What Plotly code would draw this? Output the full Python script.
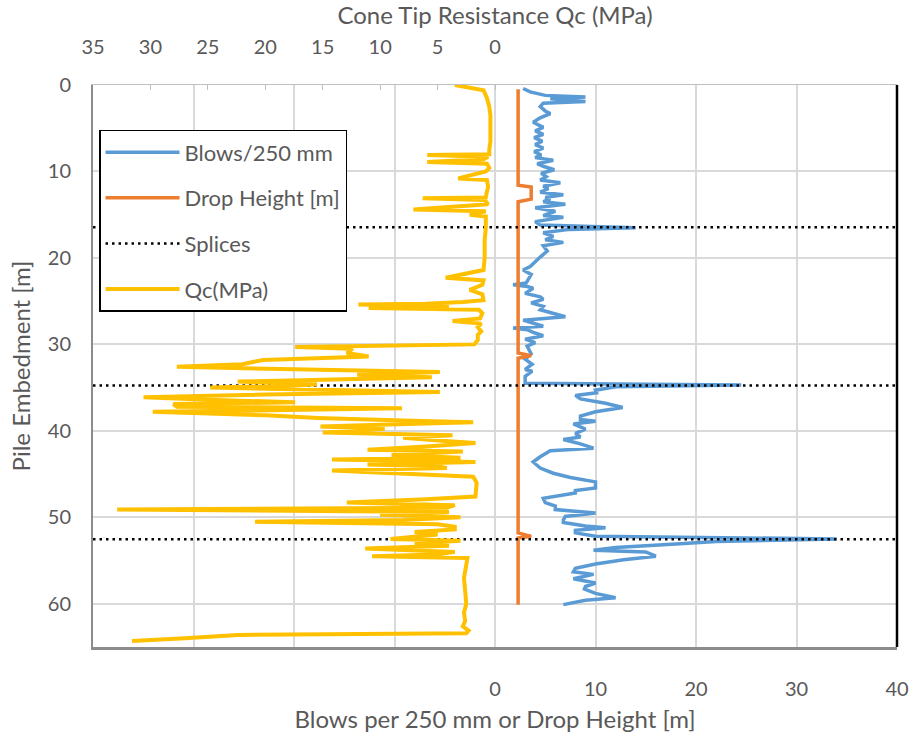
import plotly.graph_objects as go

# ---------------- data ----------------
blows_depth = [0.4, 0.8, 1.2, 1.4, 1.6, 1.9, 2.1, 2.5, 3.0, 3.3, 3.8, 4.3, 4.9, 5.3, 5.7, 6.1, 6.5, 6.9,
               7.3, 7.7, 8.1, 8.4, 8.7, 9.1, 9.4, 9.8, 10.2, 10.6, 11.0, 11.3, 11.7, 12.0, 12.4, 12.7,
               13.0, 13.2, 13.5, 13.8, 14.2, 14.6, 15.1, 15.3, 15.8, 16.2, 16.5, 16.7, 17.1, 17.5, 17.9,
               18.2, 18.6, 19.2, 19.9, 20.4, 21.0, 21.4, 21.9, 22.5, 22.9, 23.1, 23.3, 23.5, 24.1, 24.5,
               24.8, 25.2, 25.6, 26.0, 26.8, 27.2, 27.6, 27.9, 28.1, 28.3, 28.6, 29.0, 29.4, 29.8, 30.2,
               30.6, 31.1, 31.7, 32.3, 32.9, 33.1, 33.7, 34.5, 34.7, 34.9, 35.3, 35.6, 35.9, 36.3, 36.8,
               37.3, 37.8, 38.3, 38.7, 38.9, 39.2, 39.8, 40.3, 40.7, 41.0, 41.5, 42.0, 42.3, 43.0, 43.6,
               44.3, 44.9, 45.4, 45.9, 46.6, 46.9, 47.2, 47.8, 48.3, 48.7, 49.1, 49.5, 49.9, 50.3, 50.6,
               51.0, 51.2, 51.5, 51.8, 52.2, 52.5, 52.8, 53.1, 53.5, 53.8, 54.0, 54.5, 54.9, 55.4, 55.9,
               56.3, 56.6, 57.1, 57.6, 58.0, 58.3, 58.8, 59.3, 59.6, 60.1]
blows_value = [2.8, 3.5, 5.0, 9.0, 5.5, 9.0, 4.8, 4.5, 5.0, 5.5, 4.5, 3.8, 4.8, 4.0, 4.8, 3.9, 4.7, 4.0,
               4.8, 3.9, 4.6, 4.0, 5.8, 4.2, 4.8, 5.9, 4.6, 5.1, 4.5, 6.5, 4.8, 5.3, 4.5, 6.8,
               5.0, 5.5, 4.8, 7.0, 4.0, 6.0, 4.8, 6.8, 4.0, 4.5, 14.0, 7.4, 4.8, 5.8, 5.0,
               6.8, 4.8, 5.2, 4.5, 4.0, 3.5, 2.8, 3.6, 3.3, 3.1, 1.8, 3.2, 3.8, 3.0, 4.5,
               4.8, 3.6, 4.8, 4.5, 7.0, 2.8, 4.0, 4.8, 1.8, 3.2, 3.8, 4.8, 3.0, 4.0, 3.2,
               3.4, 3.6, 3.0, 3.7, 3.0, 3.7, 3.0, 3.0, 24.5, 12.0, 10.0, 10.1, 8.0, 8.5, 11.0,
               12.7, 10.0, 8.5, 8.5, 10.0, 7.8, 9.0, 8.0, 8.5, 6.8, 8.5, 9.8, 5.5, 4.5, 3.8,
               4.5, 5.8, 7.5, 10.0, 10.0, 8.0, 8.0, 4.8, 5.0, 6.0, 6.0, 10.0, 7.0, 6.8, 6.8,
               9.0, 11.0, 8.0, 8.0, 10.0, 34.0, 22.0, 18.0, 12.0, 9.8, 15.0, 16.0, 12.8, 10.0, 8.0,
               7.8, 9.8, 7.8, 10.0, 9.0, 8.9, 10.0, 12.0, 9.0, 6.8]

drop_depth = [0.5, 11.6, 11.8, 13.2, 13.5, 31.0, 31.3, 31.6, 51.8, 52.2, 52.4, 60.1]
drop_value = [2.3, 2.3, 3.6, 3.6, 2.3, 2.3, 3.6, 2.3, 2.3, 3.6, 2.3, 2.3]

splice_depths = [16.45, 34.75, 52.55]
splice_span = [-40, 40]

qc_depth = [0.0, 0.3, 0.6, 1.5, 2.5, 3.5, 5.0, 6.5, 7.5, 8.0, 8.1, 8.3, 8.6, 8.9, 9.1, 9.6, 10.0, 10.8,
            11.0, 11.8, 12.3, 13.0, 13.1, 13.3, 13.8, 14.4, 14.6, 15.0, 15.2, 16.5, 18.0, 20.0, 21.4,
            22.3, 22.6, 23.1, 23.7, 24.2, 24.9, 25.1, 25.3, 25.4, 25.6, 25.8, 26.0, 26.4, 27.0, 27.3,
            27.6, 28.0, 28.5, 28.9, 29.5, 30.0, 30.3, 30.5, 31.0, 31.4, 31.8, 32.3, 32.6, 32.9, 33.2,
            33.5, 33.8, 34.1, 34.3, 34.6, 34.8, 35.0, 35.3, 35.5, 35.8, 36.1, 36.4, 36.7, 36.9, 37.2,
            37.4, 37.8, 38.2, 38.5, 38.8, 39.0, 39.3, 39.5, 39.8, 40.2, 40.5, 40.8, 41.2, 41.4, 41.8,
            42.2, 42.4, 42.8, 43.1, 43.3, 43.6, 43.9, 44.1, 44.3, 44.6, 45.0, 45.3, 46.0, 47.0, 47.6,
            47.9, 48.3, 48.6, 48.9, 49.1, 49.4, 49.7, 50.0, 50.3, 50.5, 50.8, 51.1, 51.4, 51.7, 52.0,
            52.5, 52.7, 53.0, 53.3, 53.6, 54.0, 54.3, 54.5, 54.7, 55.5, 57.0, 58.5, 60.0, 61.0, 62.0,
            62.6, 63.1, 63.4, 63.6, 64.0, 64.3]
qc_value = [3.5, 2.0, 1.0, 0.7, 0.5, 0.4, 0.4, 0.4, 0.5, 0.5, 5.9, 0.6, 1.0, 5.9, 0.7, 0.5, 0.8, 3.2,
            0.7, 0.6, 0.7, 0.8, 6.3, 0.9, 0.6, 7.1, 0.8, 2.2, 0.8, 0.8, 0.9, 0.9, 1.0,
            4.3, 1.0, 1.1, 2.2, 1.1, 1.0, 2.8, 6.0, 11.9, 4.0, 11.0, 1.4, 1.1, 1.3, 3.7,
            1.2, 1.5, 1.2, 1.5, 1.5, 1.8, 17.4, 12.4, 12.9, 11.0, 20.2, 22.0, 27.7, 15.0, 4.8,
            12.0, 5.5, 15.0, 22.4, 15.5, 18.0, 24.8, 10.0, 4.8, 20.0, 30.6, 25.0, 17.4, 28.0, 27.7,
            8.1, 29.8, 20.0, 15.4, 8.0, 1.9, 10.0, 15.2, 9.6, 15.0, 3.7, 8.0, 4.0, 1.7, 6.0,
            11.1, 2.8, 9.0, 3.0, 14.2, 1.7, 11.1, 5.0, 4.2, 14.2, 6.0, 1.9, 1.6, 1.7, 1.7,
            6.0, 12.9, 3.5, 4.2, 32.9, 4.0, 10.0, 3.0, 8.0, 20.9, 5.0, 3.5, 3.5, 7.0, 5.0,
            9.1, 3.0, 7.0, 4.0, 11.3, 3.5, 5.0, 10.7, 2.4, 2.5, 2.7, 2.6, 2.5, 2.7, 2.6,
            2.8, 2.3, 2.5, 22.4, 27.0, 31.6]

bottom_ticks = [-40, -30, -20, -10, 0, 10, 20, 30, 40]
bottom_ticktext = ["", "", "", "", "0", "10", "20", "30", "40"]
top_ticks = [35, 30, 25, 20, 15, 10, 5, 0]
depth_ticks = [0, 10, 20, 30, 40, 50, 60]

# ---------------- styling ----------------
FONT = "Lato, 'Liberation Sans', sans-serif"
TXT = "#595959"
GRID = "#d9d9d9"

fig = go.Figure()

fig.add_trace(go.Scatter(x=blows_value, y=blows_depth, mode="lines", name="Blows/250 mm",
                         line=dict(color="#5B9BD5", width=3.5), legendgroup="a",
                         xaxis="x", yaxis="y"))
fig.add_trace(go.Scatter(x=drop_value, y=drop_depth, mode="lines", name="Drop Height [m]",
                         line=dict(color="#ED7D31", width=3.5), legendgroup="b",
                         xaxis="x", yaxis="y"))
sx, sy = [], []
for d in splice_depths:
    sx += [splice_span[0], splice_span[1], None]
    sy += [d, d, None]
fig.add_trace(go.Scatter(x=sx, y=sy, mode="lines", name="Splices",
                         line=dict(color="black", width=2.5, dash="2.5px,4px"), legendgroup="c",
                         xaxis="x", yaxis="y"))
fig.add_trace(go.Scatter(x=qc_value, y=qc_depth, mode="lines", name="Qc(MPa)",
                         line=dict(color="#FFC000", width=4), legendgroup="d",
                         xaxis="x2", yaxis="y"))

fig.update_layout(
    width=910, height=733,
    margin=dict(l=93, r=13, t=85, b=86, autoexpand=False),
    paper_bgcolor="white", plot_bgcolor="white",
    font=dict(family=FONT, color=TXT, size=20),
    showlegend=True,
    legend=dict(x=0.0075, y=0.92, xanchor="left", yanchor="top",
                bgcolor="white", bordercolor="black", borderwidth=1.5,
                font=dict(size=22, color=TXT, family=FONT),
                traceorder="grouped", tracegroupgap=14, itemwidth=74),
    xaxis=dict(range=[-40, 40], tickvals=bottom_ticks, ticktext=bottom_ticktext,
               automargin=False,
               showgrid=True, gridcolor=GRID, gridwidth=1.5, zeroline=False,
               showline=True, linecolor="#8c8c8c", linewidth=2.5,
               ticks="", ticklabelstandoff=22,
               tickfont=dict(size=20, color=TXT),
               title=dict(text="Blows per 250 mm or Drop Height [m]", font=dict(size=24, color=TXT),
                          standoff=14)),
    xaxis2=dict(range=[35, -35], tickvals=top_ticks, overlaying="x", side="top",
                automargin=False,
                showgrid=False, zeroline=False, showline=True, linecolor="#bfbfbf", linewidth=1,
                ticks="inside", ticklen=5, tickcolor="#bfbfbf", ticklabelstandoff=22,
                tickfont=dict(size=20, color=TXT),
                title=dict(text="Cone Tip Resistance Qc (MPa)", font=dict(size=24, color=TXT),
                           standoff=12)),
    yaxis=dict(range=[65, 0], tickvals=depth_ticks, automargin=False,
               showgrid=True, gridcolor=GRID, gridwidth=1.5,
               zeroline=False, showline=True, linecolor="#8c8c8c", linewidth=2,
               ticks="", ticklabelstandoff=16,
               tickfont=dict(size=20, color=TXT),
               title=dict(text="Pile Embedment [m]", font=dict(size=24, color=TXT), standoff=10)),
    shapes=[dict(type="line", xref="paper", yref="paper", x0=1, x1=1, y0=0, y1=1,
                 line=dict(color="black", width=2.5))],
)

fig.write_html("out.html")
